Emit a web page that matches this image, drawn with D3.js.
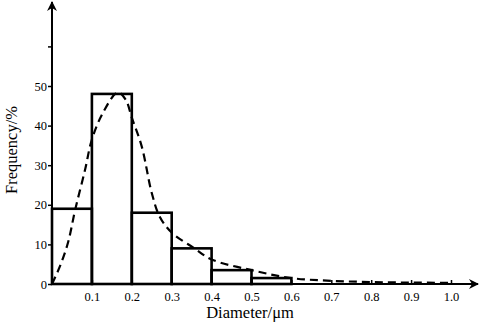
<!DOCTYPE html>
<html>
<head>
<meta charset="utf-8">
<script src="https://cdn.jsdelivr.net/npm/d3@7"></script>
<style>
  body { margin: 0; background: #fff; }
  svg text { font-family: "Liberation Serif", "DejaVu Serif", serif; fill: #000; }
</style>
</head>
<body>
<svg id="chart" width="480" height="323"></svg>
<script>
// histogram bins (diameter in um) and frequency (%)
const binStarts = [0, 0.1, 0.2, 0.3, 0.4, 0.5];
const binFreq = [19, 48, 18, 9, 3.5, 1.5];
const binWidth = 0.1;

// fitted distribution curve
const curveX = [0, 0.02, 0.04, 0.058, 0.083, 0.1, 0.128, 0.165, 0.185, 0.2, 0.225, 0.25, 0.27, 0.3, 0.357, 0.4, 0.5, 0.6, 0.7, 0.8, 0.9, 1.0];
const curveY = [0, 4.5, 10.4, 18.7, 28.9, 36.5, 43.3, 48.4, 46.5, 42, 34.7, 23, 17, 13, 9, 6.2, 3.5, 1.5, 0.8, 0.5, 0.35, 0.3];

const yTicks = [0, 10, 20, 30, 40, 50, 60];
const xTicks = [0.1, 0.2, 0.3, 0.4, 0.5, 0.6, 0.7, 0.8, 0.9, 1.0];

const svg = d3.select("#chart");
const x = d3.scaleLinear().domain([0, 1]).range([52, 451]);
const y = d3.scaleLinear().domain([0, 50]).range([284, 86]);

const defs = svg.append("defs");
defs.append("marker")
  .attr("id", "arrow")
  .attr("viewBox", "0 0 10 10")
  .attr("refX", 9)
  .attr("refY", 5)
  .attr("markerWidth", 5)
  .attr("markerHeight", 5)
  .attr("markerUnits", "strokeWidth")
  .attr("orient", "auto")
  .append("path")
  .attr("d", "M0,0 L10,5 L0,10 L3,5 Z")
  .attr("fill", "#000");

// bars
svg.append("g")
  .selectAll("rect")
  .data(binStarts)
  .join("rect")
  .attr("x", (d) => x(d))
  .attr("y", (d, i) => y(binFreq[i]))
  .attr("width", (d) => x(d + binWidth) - x(d))
  .attr("height", (d, i) => y(0) - y(binFreq[i]))
  .attr("fill", "none")
  .attr("stroke", "#000")
  .attr("stroke-width", 2.6);

// dashed curve
const curvePts = curveX.map((v, i) => [v, curveY[i]]);
svg.append("path")
  .datum(curvePts)
  .attr("fill", "none")
  .attr("stroke", "#000")
  .attr("stroke-width", 2.2)
  .attr("stroke-dasharray", "8,5")
  .attr("d", d3.line().x((d) => x(d[0])).y((d) => y(d[1])).curve(d3.curveCatmullRom));

// axes
const yAxis = svg.append("g")
  .attr("transform", `translate(${x(0)},0)`)
  .call(d3.axisLeft(y).tickValues(yTicks).tickSize(4).tickFormat((d) => (d === 60 ? "" : d)));
yAxis.select(".domain").remove();
yAxis.selectAll("line").attr("stroke-width", 1.5);
yAxis.selectAll("text").attr("font-size", 12.5).attr("x", -5).style("font-family", "Liberation Serif");

const xAxis = svg.append("g")
  .attr("transform", `translate(0,${y(0)})`)
  .call(d3.axisBottom(x).tickValues(xTicks).tickSizeInner(-4).tickSizeOuter(0).tickPadding(4).tickFormat(d3.format(".1f")));
xAxis.select(".domain").remove();
xAxis.selectAll("line").attr("stroke-width", 1.5);
xAxis.selectAll("text").attr("font-size", 12.5).attr("y", 8).style("font-family", "Liberation Serif");

svg.append("line")
  .attr("x1", x(0)).attr("y1", y(0)).attr("x2", x(0)).attr("y2", 2)
  .attr("stroke", "#000").attr("stroke-width", 2)
  .attr("marker-end", "url(#arrow)");
svg.append("line")
  .attr("x1", x(0) - 1).attr("y1", y(0)).attr("x2", 478).attr("y2", y(0))
  .attr("stroke", "#000").attr("stroke-width", 2)
  .attr("marker-end", "url(#arrow)");

// labels
svg.append("text")
  .attr("x", 250)
  .attr("y", 318)
  .attr("text-anchor", "middle")
  .attr("font-size", 16.5)
  .text("Diameter/\u03bcm");
svg.append("text")
  .attr("transform", "translate(17,150) rotate(-90)")
  .attr("text-anchor", "middle")
  .attr("font-size", 16.5)
  .text("Frequency/%");
</script>
</body>
</html>
